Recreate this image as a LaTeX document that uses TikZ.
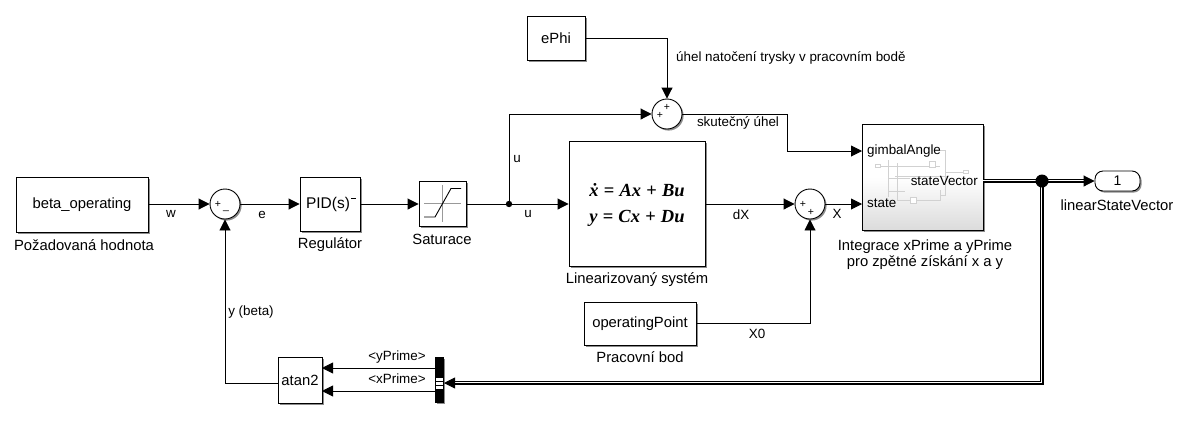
\documentclass[tikz,border=0pt]{standalone}
\usepackage{amsmath,amssymb}
\usepackage{fontspec}
\setmainfont{Liberation Sans}
\newfontfamily\eqfont{Liberation Serif}
\usetikzlibrary{arrows.meta,shadows,calc,positioning}
\newcommand{\eqv}[1]{{\itshape\bfseries #1}}
\newcommand{\eqo}[1]{\hspace{.28em}{\bfseries #1}\hspace{.28em}}
\tikzset{
  shade block/.style={drop shadow={shadow xshift=1.6pt,shadow yshift=-1.6pt,fill=black,opacity=.45}},
  block/.style={draw=black,line width=.9pt,fill=white,rectangle,inner sep=0pt,shade block,font=\fontsize{14.8}{16}\selectfont},
  sumnode/.style={draw=black,line width=.9pt,fill=white,circle,minimum size=30pt,inner sep=0pt,shade block},
  sign/.style={inner sep=0pt,font=\fontsize{10.5}{11}\selectfont},
  lab/.style={inner sep=0pt,font=\fontsize{13.4}{15}\selectfont,align=center},
  blab/.style={inner sep=0pt,font=\fontsize{14.8}{16}\selectfont,align=center},
  eqn/.style={inner sep=0pt,font=\eqfont\fontsize{18.5}{20}\selectfont},
  wire/.style={line width=.9pt,-{Triangle[length=11pt,width=11pt]}},
  plainwire/.style={line width=.9pt},
  buswire/.style={line width=4.2pt,black,postaction={draw,white,line width=2.6pt},postaction={draw,black,line width=.9pt}},
  ghost/.style={line width=.5pt,black!18},
}
\begin{document}
\begin{tikzpicture}[x=1pt,y=-1pt]
\useasboundingbox (0,0) rectangle (1199,424);
% blocks
\node[block,minimum width=132pt,minimum height=55pt] (beta) at (82,204.5) {beta\_operating};
\node[sumnode] (s1) at (225,204) {};
\node[block,minimum width=60pt,minimum height=54pt] (pid) at (330,204) {};
\node[inner sep=0pt,font=\fontsize{15.5}{17}\selectfont] (pidtext) at (328,204) {PID(s)};
\node[block,minimum width=47pt,minimum height=45pt] (sat) at (442.5,203.5) {};
\node[block,minimum width=136pt,minimum height=125pt] (ss) at (637,203.5) {};
\node[eqn] (eq1) at (637,190) {\eqv{ẋ}\eqo{=}\eqv{Ax}\eqo{+}\eqv{Bu}};
\node[eqn] (eq2) at (637,218) {\eqv{y}\eqo{=}\eqv{Cx}\eqo{+}\eqv{Du}};
\node[block,minimum width=58pt,minimum height=44pt] (ephi) at (556,38) {ePhi};
\node[sumnode] (s2) at (667,114) {};
\node[sumnode] (s3) at (810,204) {};
\node[block,minimum width=112pt,minimum height=43pt] (op) at (640,323.5) {operatingPoint};
\node[block,minimum width=44pt,minimum height=46pt] (atan) at (300,380) {atan2};
\node[draw=black,fill=black,minimum width=8pt,minimum height=45pt,inner sep=0pt,shade block] (demux) at (439,379.5) {};
\fill[white] (435.5,378) rectangle (442.5,381);
\fill[white] (435.5,382) rectangle (442.5,385);
\fill[white] (435.5,386) rectangle (442.5,389);
\node[draw=black,line width=.9pt,rounded corners=8pt,fill=white,minimum width=45pt,minimum height=20pt,inner sep=0pt,shade block,font=\fontsize{14}{15}\selectfont] (out) at (1117.5,181) {1};
\node[draw=black,line width=.9pt,top color=white,bottom color=black!14,middle color=white,minimum width=121pt,minimum height=106pt,inner sep=0pt,shade block] (int) at (922.5,177) {};
% signs
\node[sign] (s1a) at (218,204) {+};
\node[sign] (s1b) at (226,211) {\_};
\node[sign] (s2a) at (667,107) {+};
\node[sign] (s2b) at (660,115) {+};
\node[sign] (s3a) at (803,204) {+};
\node[sign] (s3b) at (811,212) {+};
% PID decorations
\draw[line width=.7pt] (351,198.5) -- (356,198.5);
% saturation icon
\draw[black!40,line width=.6pt] (424,203.5) -- (461,203.5) (442.5,185) -- (442.5,222);
\draw[line width=.9pt] (424,217) -- (435,217) -- (451,188.5) -- (461,188.5);
% subsystem ghost icon
\draw[ghost] (875,166) -- (940,166) (888,160) -- (888,197) (895,176) -- (948,176) (897,163) -- (897,200) -- (940,200) -- (940,190)
  (939,150) -- (945,150) -- (945,195) -- (940,195) (945,172) -- (965,172) (888,178) -- (910,178) (888,191) -- (905,191);
\draw[ghost,fill=white] (929,161) rectangle (935,167) (910,197) rectangle (916,203) (963,170.5) rectangle (968,173.5) (875,164.5) rectangle (880,167.5);
\node[inner sep=0pt,font=\fontsize{13.4}{15}\selectfont,anchor=west] (pg) at (867,151) {gimbalAngle};
\node[inner sep=0pt,font=\fontsize{13.4}{15}\selectfont,anchor=west] (ps) at (867,203) {state};
\node[inner sep=0pt,font=\fontsize{13.4}{15}\selectfont,anchor=east] (pv) at (978,181) {stateVector};
% labels
\node[blab] (lb1) at (84,245) {Požadovaná hodnota};
\node[blab] (lb2) at (330,245) {Regulátor};
\node[blab] (lb3) at (442,239) {Saturace};
\node[blab] (lb4) at (637,280) {Linearizovaný systém};
\node[blab] (lb5) at (640,357) {Pracovní bod};
\node[blab] (lb6) at (925,255) {Integrace xPrime a yPrime\\pro zpětné získání x a y};
\node[blab] (lb7) at (1117,205) {linearStateVector};
\node[lab] (w) at (171,214) {w};
\node[lab] (e) at (262,215) {e};
\node[lab] (u1) at (517,159) {u};
\node[lab] (u2) at (528,214) {u};
\node[lab] (dx) at (741,215) {dX};
\node[lab] (xl) at (837,214) {X};
\node[lab] (x0) at (757,334) {X0};
\node[lab] (yb) at (251,312) {y (beta)};
\node[lab] (sk) at (738,123) {skutečný úhel};
\node[lab,anchor=west] (un) at (676,58) {úhel natočení trysky v pracovním bodě};
\node[lab] (yp) at (397,357) {<yPrime>};
\node[lab] (xp) at (397,379) {<xPrime>};
% junctions
\coordinate (j1) at (509,204);
\coordinate (j2) at (1042,181);
\coordinate (pi1) at (862,151);
\coordinate (pi2) at (862,204);
\coordinate (po) at (983,181);
\coordinate (a1) at (322,368);
\coordinate (a2) at (322,391);
\coordinate (d1) at (435,368);
\coordinate (d2) at (435,391);
\coordinate (dbus) at (444,383);
% wires
\draw[wire] (beta.east |- s1) -- (s1.west);
\draw[wire] (s1.east) -- (pid.west);
\draw[wire] (pid.east) -- (sat.west |- pid.east);
\draw[plainwire] (sat.east |- j1) -- (j1);
\draw[wire] (j1) -- (ss.west |- j1);
\draw[wire] (j1) |- (s2.west);
\draw[wire] (ephi.east) -| (s2.north);
\draw[wire] (s2.east) -- (787,114) |- (pi1);
\draw[wire] (ss.east |- s3) -- (s3.west);
\draw[wire] (s3.east) -- (pi2);
\draw[wire] (op.east) -| (s3.south);
\draw[wire] (atan.west |- 0,383) -- (225,383) -- (s1.south);
\draw[wire] (d1) -- (a1);
\draw[wire] (d2) -- (a2);
\draw[buswire] (po) -- (1084,181);
\draw[buswire] (j2) -- (1042,383) -- (454,383);
\draw[-{Triangle[length=11pt,width=11pt]},line width=.9pt] (1080,181) -- (out.west);
\draw[-{Triangle[length=11pt,width=11pt]},line width=.9pt] (455,383) -- (dbus);
\fill[black] (j1) circle (3.2pt);
\fill[black] (j2) circle (6.5pt);
\end{tikzpicture}
\end{document}
